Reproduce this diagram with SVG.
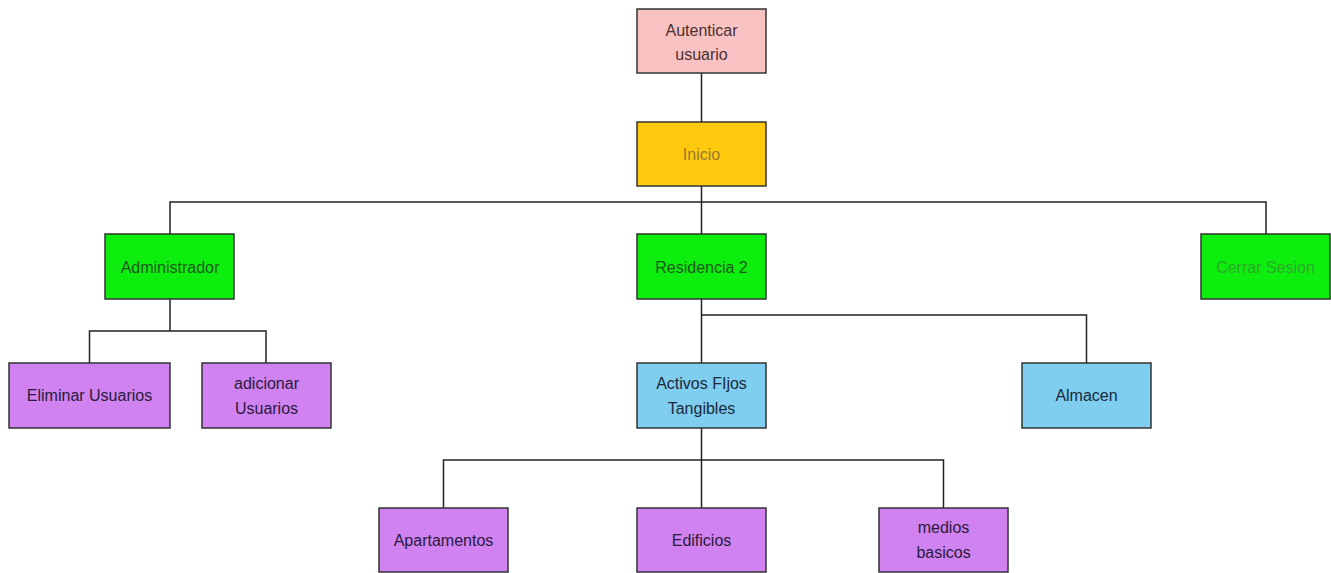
<svg xmlns="http://www.w3.org/2000/svg" width="1331" height="573" viewBox="0 0 1331 573">
<style>
rect.n{stroke:#333;stroke-width:1.5}
text{font-family:"Liberation Sans",Arial,sans-serif;font-size:16px;text-anchor:middle}
.pink{fill:#f9c2c2}.gold{fill:#ffc90e}.green{fill:#0eee0e}.blue{fill:#7fcdef}.purple{fill:#cf82f0}
.c line,.c polyline{stroke:#222;stroke-width:1.5;fill:none}
</style>
<rect width="1331" height="573" fill="#fff"/>
<g class="c" id="connectors">
<line x1="701.5" y1="73" x2="701.5" y2="122"/>
<line x1="701.5" y1="186" x2="701.5" y2="234"/>
<polyline points="170,234 170,202 1266,202 1266,234"/>
<polyline points="89.5,363 89.5,331 266,331 266,363"/>
<line x1="170" y1="299" x2="170" y2="331"/>
<line x1="701.5" y1="299" x2="701.5" y2="363"/>
<polyline points="701.5,315 1086.5,315 1086.5,363"/>
<line x1="701.5" y1="428" x2="701.5" y2="508"/>
<polyline points="443.5,508 443.5,460 943.5,460 943.5,508"/>
</g>
<g id="autenticar"><rect class="n pink" x="637" y="9" width="129" height="64"/><text x="701.5" y="36" fill="#4a3030">Autenticar</text><text x="701.5" y="60" fill="#4a3030">usuario</text></g>
<g id="inicio"><rect class="n gold" x="637" y="122" width="129" height="64"/><text x="701.5" y="160" fill="#9a7a30">Inicio</text></g>
<g id="administrador"><rect class="n green" x="105" y="234" width="129" height="65"/><text x="170" y="273" fill="#1a5a1a">Administrador</text></g>
<g id="residencia"><rect class="n green" x="637" y="234" width="129" height="65"/><text x="701.5" y="273" fill="#1a5a1a">Residencia 2</text></g>
<g id="cerrar"><rect class="n green" x="1201" y="234" width="129" height="65"/><text x="1265.5" y="273" fill="#2aaa2a">Cerrar Sesion</text></g>
<g id="eliminar"><rect class="n purple" x="9" y="363" width="161" height="65"/><text x="89.5" y="401" fill="#2a1a3a">Eliminar Usuarios</text></g>
<g id="adicionar"><rect class="n purple" x="202" y="363" width="129" height="65"/><text x="266.5" y="389" fill="#2a1a3a">adicionar</text><text x="266.5" y="414" fill="#2a1a3a">Usuarios</text></g>
<g id="activos"><rect class="n blue" x="637" y="363" width="129" height="65"/><text x="701.5" y="389" fill="#1a2a3a">Activos FIjos</text><text x="701.5" y="414" fill="#1a2a3a">Tangibles</text></g>
<g id="almacen"><rect class="n blue" x="1022" y="363" width="129" height="65"/><text x="1086.5" y="401" fill="#1a2a3a">Almacen</text></g>
<g id="apartamentos"><rect class="n purple" x="379" y="508" width="129" height="64"/><text x="443.5" y="546" fill="#2a1a3a">Apartamentos</text></g>
<g id="edificios"><rect class="n purple" x="637" y="508" width="129" height="64"/><text x="701.5" y="546" fill="#2a1a3a">Edificios</text></g>
<g id="medios"><rect class="n purple" x="879" y="508" width="129" height="64"/><text x="943.5" y="533" fill="#2a1a3a">medios</text><text x="943.5" y="558" fill="#2a1a3a">basicos</text></g>
</svg>
